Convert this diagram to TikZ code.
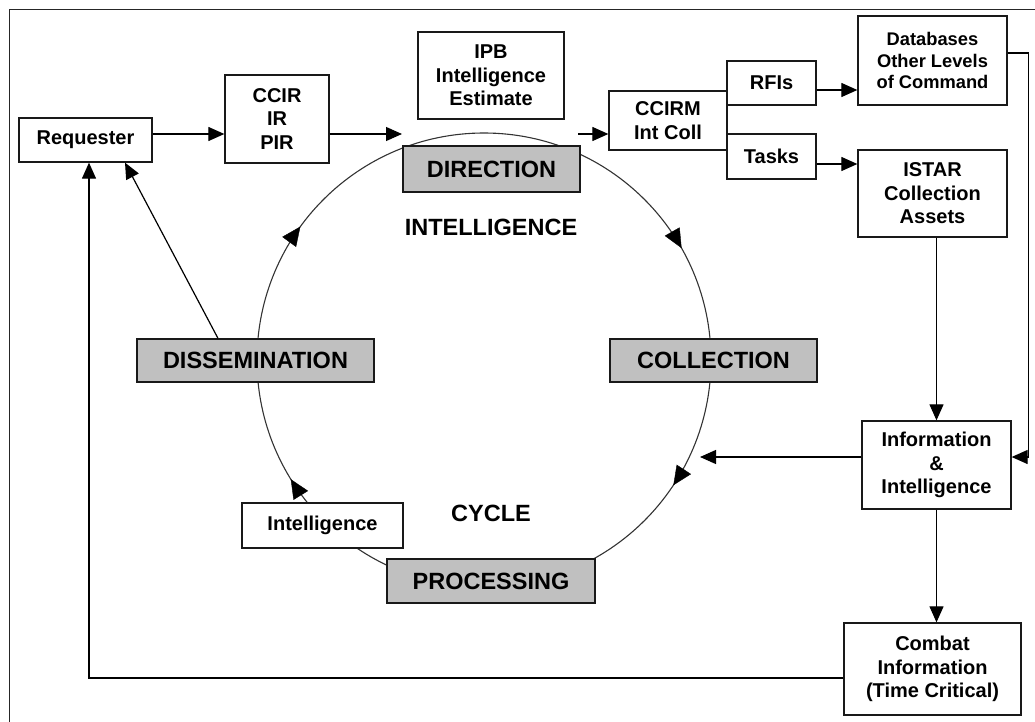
\documentclass[tikz,border=0pt]{standalone}
\usepackage{fontspec}
\setmainfont{Liberation Sans}
\usetikzlibrary{arrows.meta,decorations.markings,calc}
\definecolor{phasegray}{RGB}{192,192,192}
\begin{document}
\begin{tikzpicture}[x=1pt,y=-1pt,
  box/.style={draw=black!90, line width=1.3pt, fill=white, align=center, inner sep=0pt,
    font=\bfseries\fontsize{20}{23.5}\selectfont},
  phase/.style={box, fill=phasegray, font=\bfseries\fontsize{23.5}{27}\selectfont},
  label/.style={font=\bfseries\fontsize{23.5}{27}\selectfont, inner sep=0pt},
  conn/.style={line width=1.2pt, -{Triangle[length=16pt,width=14pt]}},
  cyc/.style={line width=1.1pt, draw=black!80},
]
\useasboundingbox (0,0) rectangle (1035,722);

% outer frame
\draw[line width=1.5pt, black!85] (1040,9.5) -- (9.5,9.5) -- (9.5,730);

% the intelligence cycle, running clockwise
\draw[cyc] (484,360) circle[radius=227];
\path[postaction={decorate}, decoration={markings,
    mark=at position 0.168 with {\arrow{Triangle[length=19pt,width=17pt]}},
    mark=at position 0.343 with {\arrow{Triangle[length=19pt,width=17pt]}},
    mark=at position 0.662 with {\arrow{Triangle[length=19pt,width=17pt]}},
    mark=at position 0.850 with {\arrow{Triangle[length=19pt,width=17pt]}}}]
  (484,133) arc[start angle=270, end angle=630, radius=227];

\node[label] (cyctitle) at (491,227) {INTELLIGENCE};
\node[label] (cycsub) at (491,513) {CYCLE};

% phases
\node[phase, minimum width=177pt, minimum height=46pt] (direction) at (491.5,169) {DIRECTION};
\node[phase, minimum width=207pt, minimum height=43pt] (collection) at (713.5,360.5) {COLLECTION};
\node[phase, minimum width=208pt, minimum height=44pt] (processing) at (491,581) {PROCESSING};
\node[phase, minimum width=237pt, minimum height=43pt] (dissemination) at (255.5,360.5) {DISSEMINATION};

% boxes
\node[box, minimum width=133pt, minimum height=44pt] (requester) at (85.5,140) {Requester};
\node[box, minimum width=104pt, minimum height=88pt] (ccir) at (277,119) {CCIR\\IR\\PIR};
\node[box, minimum width=146pt, minimum height=87pt] (ipb) at (491,75.5) {IPB\\Intelligence\\Estimate};
\node[box, minimum width=118pt, minimum height=59pt] (ccirm) at (668,120.5) {CCIRM\\Int Coll};
\node[box, minimum width=89pt, minimum height=44pt] (rfis) at (771.5,83) {RFIs};
\node[box, minimum width=89pt, minimum height=45pt] (tasks) at (771.5,156.5) {Tasks};
\node[box, minimum width=149pt, minimum height=89pt,
      font=\bfseries\fontsize{18.3}{21.5}\selectfont] (databases) at (932.5,60.5)
      {Databases\\Other Levels\\of Command};
\node[box, minimum width=149pt, minimum height=87pt] (istar) at (932.5,193.5) {ISTAR\\Collection\\Assets};
\node[box, minimum width=149pt, minimum height=88pt] (info) at (936.5,465) {Information\\\&\\Intelligence};
\node[box, minimum width=177pt, minimum height=92pt] (combat) at (932.5,669) {Combat\\Information\\(Time Critical)};
\node[box, minimum width=161pt, minimum height=45pt] (intel) at (322.5,525.5) {Intelligence};

% free ends on the cycle
\coordinate (dirIn) at (402,134);
\coordinate (dirOut) at (578,134);
\coordinate (collIn) at (700,457);

% connectors
\draw[conn] ([yshift=6pt]requester.east) -- ([yshift=6pt]requester.east -| ccir.west);
\draw[conn] ([yshift=-15pt]ccir.east) -- (dirIn);
\draw[conn] (dirOut) -- (dirOut -| ccirm.west);
\draw[conn] ([yshift=-7pt]rfis.east) -- ([yshift=-7pt]rfis.east -| databases.west);
\draw[conn] ([yshift=-7.5pt]tasks.east) -- ([yshift=-7.5pt]tasks.east -| istar.west);
\draw[conn] (istar.south -| info.north) -- (info.north);
\draw[conn] (info.south) -- (info.south |- combat.north);
\draw[conn] ([yshift=7.5pt]databases.east) -- ++(21,0) |- ([yshift=8pt]info.east);
\draw[conn] ([yshift=8pt]info.west) -- (collIn);
\draw[conn] ([yshift=-9pt]combat.west) -| ([xshift=3.5pt]requester.south);
\draw[conn] ([xshift=-37.5pt]dissemination.north) -- ([xshift=39.5pt]requester.south);
\end{tikzpicture}
\end{document}
